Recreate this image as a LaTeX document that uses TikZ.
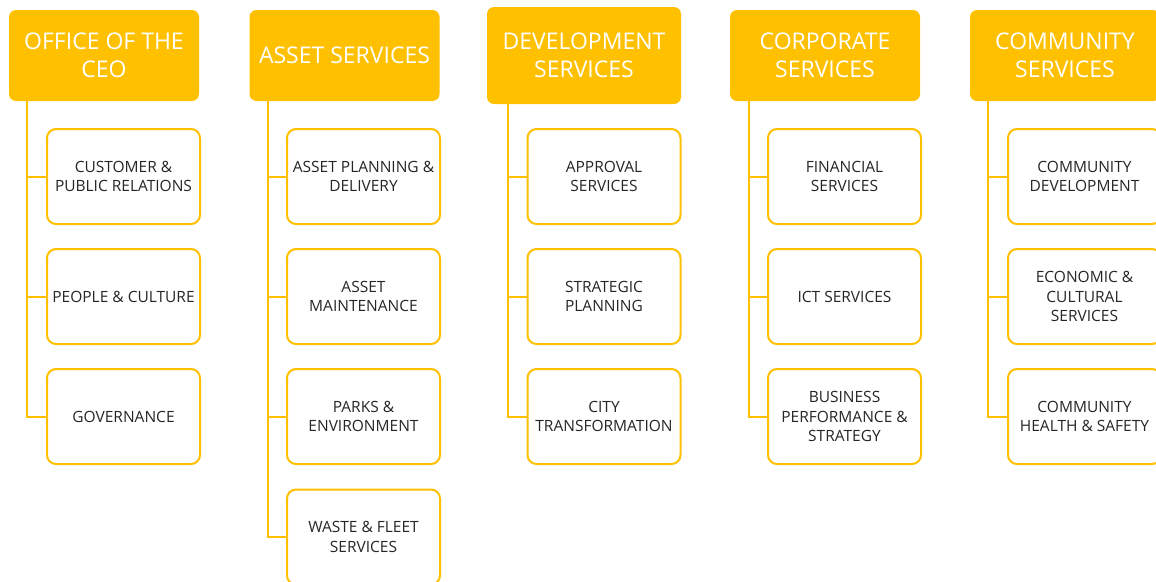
\documentclass[tikz,border=0pt]{standalone}
\usepackage{fontspec}
\setmainfont{Open Sans}
\definecolor{gold}{HTML}{FFC000}
\definecolor{txt}{HTML}{262626}
\begin{document}
\begin{tikzpicture}[x=1pt,y=-1pt,
  head/.style={fill=gold,draw=none,rounded corners=7pt,minimum width=190pt,minimum height=91pt,
    text=white,align=center,font=\fontsize{23}{28}\selectfont,inner sep=0pt},
  sub/.style={fill=white,draw=gold,line width=2pt,rounded corners=9pt,minimum width=153pt,minimum height=95pt,
    text=txt,align=center,font=\fontsize{15.5}{19.5}\selectfont,inner sep=0pt},
  conn/.style={draw=gold,line width=2pt}]
\useasboundingbox (0,0) rectangle (1156,581);
\clip (0,0) rectangle (1156,581);
% headers
\node[head] (h1) at (104,55.5) {OFFICE OF THE\\CEO};
\node[head] (h2) at (344.5,55.5) {ASSET SERVICES};
\node[head,minimum width=194pt,minimum height=97pt] (h3) at (584,55.5) {DEVELOPMENT\\SERVICES};
\node[head] (h4) at (825,55.5) {CORPORATE\\SERVICES};
\node[head] (h5) at (1065,55.5) {COMMUNITY\\SERVICES};
% line coordinates
\coordinate (l1) at (27,101);
\coordinate (l2) at (268,101);
\coordinate (l3) at (508,104);
\coordinate (l4) at (749,101);
\coordinate (l5) at (988,101);
% column 1
\node[sub] (c11) at (123.5,176.5) {CUSTOMER \&\\PUBLIC RELATIONS};
\node[sub] (c12) at (123.5,296.5) {PEOPLE \& CULTURE};
\node[sub] (c13) at (123.5,416.5) {GOVERNANCE};
% column 2
\node[sub] (c21) at (363.5,176.5) {ASSET PLANNING \&\\DELIVERY};
\node[sub] (c22) at (363.5,296.5) {ASSET\\MAINTENANCE};
\node[sub] (c23) at (363.5,416.5) {PARKS \&\\ENVIRONMENT};
\node[sub] (c24) at (363.5,537) {WASTE \& FLEET\\SERVICES};
% column 3
\node[sub] (c31) at (604,176.5) {APPROVAL\\SERVICES};
\node[sub] (c32) at (604,296.5) {STRATEGIC\\PLANNING};
\node[sub] (c33) at (604,416.5) {CITY\\TRANSFORMATION};
% column 4
\node[sub] (c41) at (844.5,176.5) {FINANCIAL\\SERVICES};
\node[sub] (c42) at (844.5,296.5) {ICT SERVICES};
\node[sub] (c43) at (844.5,416.5) {BUSINESS\\PERFORMANCE \&\\STRATEGY};
% column 5
\node[sub] (c51) at (1084.5,176.5) {COMMUNITY\\DEVELOPMENT};
\node[sub] (c52) at (1084.5,296.5) {ECONOMIC \&\\CULTURAL\\SERVICES};
\node[sub] (c53) at (1084.5,416.5) {COMMUNITY\\HEALTH \& SAFETY};
% connectors
\draw[conn] (l1) |- (c13.west);
\draw[conn] (c11.west) -- (c11.west -| l1);
\draw[conn] (c12.west) -- (c12.west -| l1);
\draw[conn] (l2) |- (c24.west);
\draw[conn] (c21.west) -- (c21.west -| l2);
\draw[conn] (c22.west) -- (c22.west -| l2);
\draw[conn] (c23.west) -- (c23.west -| l2);
\draw[conn] (l3) |- (c33.west);
\draw[conn] (c31.west) -- (c31.west -| l3);
\draw[conn] (c32.west) -- (c32.west -| l3);
\draw[conn] (l4) |- (c43.west);
\draw[conn] (c41.west) -- (c41.west -| l4);
\draw[conn] (c42.west) -- (c42.west -| l4);
\draw[conn] (l5) |- (c53.west);
\draw[conn] (c51.west) -- (c51.west -| l5);
\draw[conn] (c52.west) -- (c52.west -| l5);
\end{tikzpicture}
\end{document}
